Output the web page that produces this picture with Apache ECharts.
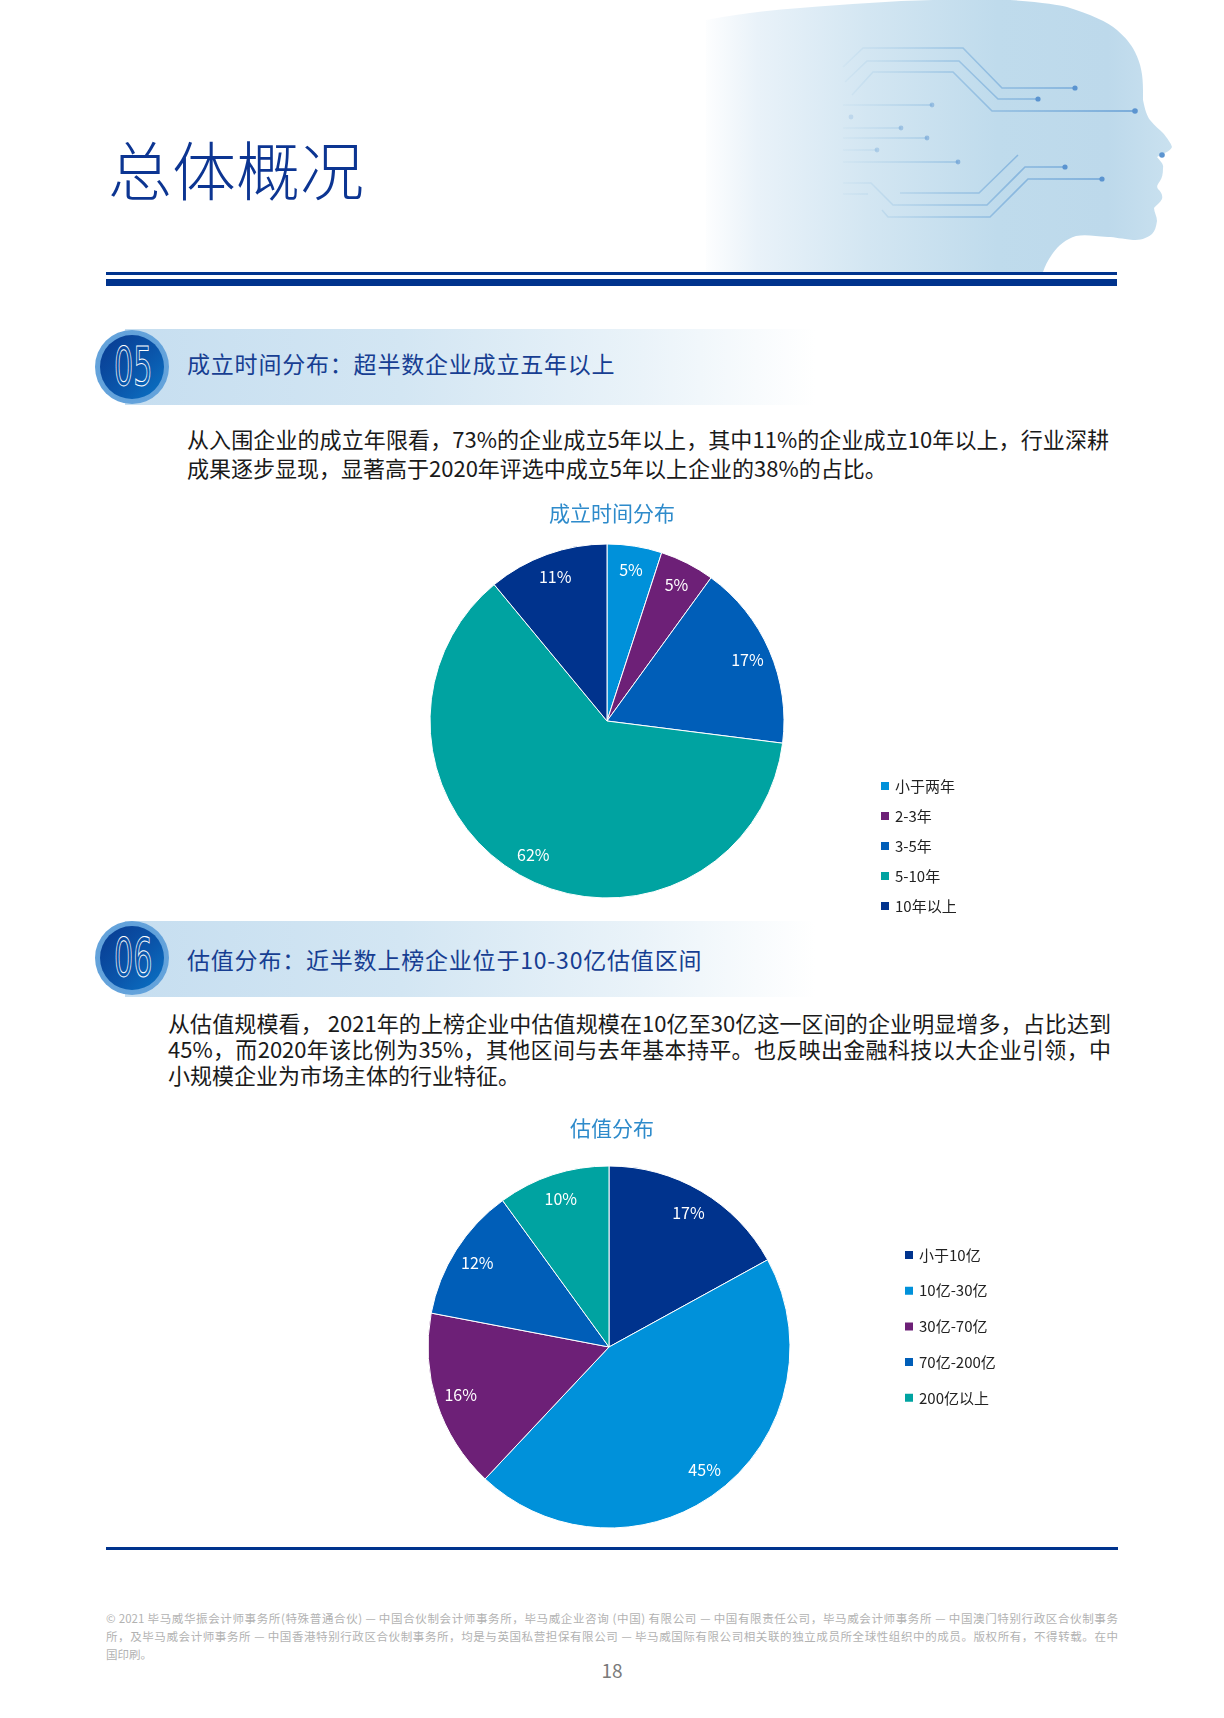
<!DOCTYPE html>
<html>
<head>
<meta charset="utf-8">
<script src="https://cdn.jsdelivr.net/npm/echarts@6/dist/echarts.min.js"></script>
<style>
  html, body { margin:0; padding:0; background:#fff; }
  body { width:1224px; height:1718px; position:relative; overflow:hidden;
         font-family:"Noto Sans CJK SC","Noto Sans",sans-serif; }
  .abs { position:absolute; }
  .title { left:108px; top:124px; font-size:64px; font-weight:200; color:#0C3592; line-height:86px; letter-spacing:0px; }
  .rule-thin { left:106px; width:1011px; top:272px; height:3px; background:#00338D; }
  .rule-thick { left:106px; width:1011px; top:279px; height:7px; background:#00338D; }
  .banner { left:125px; width:690px; height:76px;
            background:linear-gradient(90deg,#c6def0 0%,#d3e6f3 40%,#eaf3f9 75%,rgba(255,255,255,0) 100%); }
  .circle { width:74px; height:74px; border-radius:50%;
            background:radial-gradient(circle, #4f94d4 0%, #6aa7dd 88%, #a9cdee 100%); }
  .circle-in { position:absolute; left:5px; top:5px; width:64px; height:64px; border-radius:50%;
            background:linear-gradient(135deg,#093a90 0%,#0a55aa 55%,#0b74c6 100%); overflow:hidden; }
  .num { position:absolute; left:0; top:0; width:64px; height:64px; text-align:center; line-height:64px;
         font-family:"DejaVu Sans","Noto Sans",sans-serif; font-size:54px; font-weight:normal;
         color:transparent; -webkit-text-stroke:1.1px #ffffff; transform:scaleX(0.56); transform-origin:50% 50%; }
  .sec { left:187px; font-size:23px; letter-spacing:0.8px; color:#173e92; line-height:30px; white-space:nowrap; }
  .para { font-size:22px; color:#1a1a1a; }
  .para div { white-space:nowrap; }
  .para .j { text-align:justify; text-align-last:justify; }
  .foot { left:106px; width:1012px; font-size:11.5px; color:#b2b2b2; line-height:18px; top:1609px; }
  .foot div { white-space:nowrap; }
  .foot .j { text-align:justify; text-align-last:justify; }
  .pnum { left:0; width:1224px; text-align:center; top:1657px; font-size:19px; color:#7a7a7a; line-height:26px; }
  .bottom-rule { left:106px; width:1012px; top:1547px; height:3px; background:#00338D; }
  #chart { position:absolute; left:0; top:0; width:1224px; height:1718px; z-index:5; }
</style>
</head>
<body>
<svg class="abs" style="left:0;top:0" width="1224" height="290">
  <defs>
    <linearGradient id="headG" x1="700" y1="0" x2="1180" y2="0" gradientUnits="userSpaceOnUse">
      <stop offset="0" stop-color="#ffffff"/>
      <stop offset="0.12" stop-color="#e9f2f9"/>
      <stop offset="0.35" stop-color="#d3e6f2"/>
      <stop offset="0.62" stop-color="#bfdbec"/>
      <stop offset="0.85" stop-color="#bdd9eb"/>
      <stop offset="1" stop-color="#cbe2f0"/>
    </linearGradient>
    <linearGradient id="lineG" x1="843" y1="0" x2="1140" y2="0" gradientUnits="userSpaceOnUse">
      <stop offset="0" stop-color="#a9cde6" stop-opacity="0.15"/>
      <stop offset="0.35" stop-color="#8dbbe0" stop-opacity="0.7"/>
      <stop offset="1" stop-color="#5d98d2" stop-opacity="0.95"/>
    </linearGradient>
  </defs>
  <path fill="url(#headG)" d="M706 272 L706 20 C740 14 770 10 800 8 C850 4 890 1 933 0 L1010 0 C1040 2 1060 5 1067 7 C1090 14 1108 22 1117 30 C1126 38 1131 44 1135 52 C1141 64 1143 75 1143 90 L1143 100 C1145 110 1147 116 1150 120 C1155 126 1160 130 1163 133 C1167 138 1171 143 1172 147 C1170 151 1165 153 1162 154 L1157 157 C1160 161 1164 164 1163 168 C1163 174 1162 178 1160 181 C1158 184 1156 186 1158 189 C1161 192 1163 195 1162 199 C1160 203 1156 205 1154 208 C1154 212 1157 216 1157 221 C1156 227 1155 231 1152 234 C1146 239 1140 240 1133 240 C1122 239 1115 237 1108 237 C1095 236 1085 234 1076 236 C1066 239 1058 246 1053 253 C1048 260 1045 266 1043 272 Z"/>
  <g fill="none" stroke="url(#lineG)" stroke-width="1.6">
    <polyline points="843,67 863,48 963,48 1002,88 1075,88"/>
    <polyline points="845,82 867,61 959,61 998,99 1038,99"/>
    <polyline points="852,95 873,72 953,72 992,111 1135,111"/>
    <polyline points="843,105 932,105"/>
    <polyline points="843,128 901,128"/>
    <polyline points="843,138 927,138"/>
    <polyline points="843,150 877,150"/>
    <polyline points="843,162 958,162"/>
    <polyline points="900,193 979,193 1018,155"/>
    <polyline points="843,183 871,183 893,205 987,205 1025,167 1065,167"/>
    <polyline points="843,194 868,194"/>
    <polyline points="882,210 888,217 990,217 1028,179 1102,179"/>
  </g>
  <g fill="#5b94d0">
    <circle cx="1075" cy="88" r="2.6"/>
    <circle cx="1038" cy="99" r="2.6"/>
    <circle cx="1135" cy="111" r="2.8"/>
    <circle cx="932" cy="105" r="2.4" fill-opacity="0.45"/>
    <circle cx="851" cy="117" r="2.4" fill-opacity="0.2"/>
    <circle cx="901" cy="128" r="2.4" fill-opacity="0.4"/>
    <circle cx="927" cy="138" r="2.4" fill-opacity="0.5"/>
    <circle cx="877" cy="150" r="2.4" fill-opacity="0.3"/>
    <circle cx="958" cy="162" r="2.4" fill-opacity="0.6"/>
    <circle cx="1065" cy="167" r="2.6"/>
    <circle cx="1102" cy="179" r="2.6"/>
    <circle cx="1162" cy="155" r="2.8"/>
  </g>
</svg>

<div class="abs title">总体概况</div>
<div class="abs rule-thin"></div>
<div class="abs rule-thick"></div>

<div class="abs banner" style="top:329px"></div>
<div class="abs circle" style="left:95px;top:330px"><div class="circle-in"><div class="num">05</div></div></div>
<div class="abs sec" style="top:348px">成立时间分布：超半数企业成立五年以上</div>

<div class="abs para" style="left:187px;top:424px;width:922px;line-height:29px">
  <div class="j">从入围企业的成立年限看，73%的企业成立5年以上，其中11%的企业成立10年以上，行业深耕</div>
  <div>成果逐步显现，显著高于2020年评选中成立5年以上企业的38%的占比。</div>
</div>

<div class="abs banner" style="top:921px"></div>
<div class="abs circle" style="left:95px;top:921px"><div class="circle-in"><div class="num">06</div></div></div>
<div class="abs sec" style="top:944px">估值分布：近半数上榜企业位于10-30亿估值区间</div>

<div class="abs para" style="left:168px;top:1009px;width:943px;line-height:26.2px">
  <div class="j">从估值规模看， 2021年的上榜企业中估值规模在10亿至30亿这一区间的企业明显增多，占比达到</div>
  <div class="j">45%，而2020年该比例为35%，其他区间与去年基本持平。也反映出金融科技以大企业引领，中</div>
  <div>小规模企业为市场主体的行业特征。</div>
</div>

<div class="abs bottom-rule"></div>

<div class="abs foot">
  <div class="j">© 2021 毕马威华振会计师事务所(特殊普通合伙) — 中国合伙制会计师事务所，毕马威企业咨询 (中国) 有限公司 — 中国有限责任公司，毕马威会计师事务所 — 中国澳门特别行政区合伙制事务</div>
  <div class="j">所，及毕马威会计师事务所 — 中国香港特别行政区合伙制事务所，均是与英国私营担保有限公司 — 毕马威国际有限公司相关联的独立成员所全球性组织中的成员。版权所有，不得转载。在中</div>
  <div>国印刷。</div>
</div>
<div class="abs pnum">18</div>

<div id="chart"></div>

<script>
// ---- data ----
const ageCategories = ['小于两年', '2-3年', '3-5年', '5-10年', '10年以上'];
const ageValues = [5, 5, 17, 62, 11];
const valuationCategories = ['小于10亿', '10亿-30亿', '30亿-70亿', '70亿-200亿', '200亿以上'];
const valuationValues = [17, 45, 16, 12, 10];
const chartTitles = ['成立时间分布', '估值分布'];

// ---- styles ----
const ageColors = ['#0091DA', '#6D2077', '#005EB8', '#00A3A1', '#00338D'];
const valuationColors = ['#00338D', '#0091DA', '#6D2077', '#005EB8', '#00A3A1'];
const FONT = '"Noto Sans CJK SC","Noto Sans",sans-serif';

function pieData(names, values, colors) {
  return names.map((n, i) => ({ name: n, value: values[i], itemStyle: { color: colors[i] } }));
}
function labelData(names, values) {
  return names.map((n, i) => ({ name: n, value: values[i] }));
}
function piePair(names, values, colors, center, r, rLabelInner) {
  return [
    {
      type: 'pie', center: center, radius: [0, r], startAngle: 90, clockwise: true,
      silent: true, animation: false, avoidLabelOverlap: false,
      data: pieData(names, values, colors),
      itemStyle: { borderColor: '#ffffff', borderWidth: 1 },
      label: { show: false }, labelLine: { show: false },
      emphasis: { disabled: true }
    },
    {
      type: 'pie', center: center, radius: [rLabelInner, r], startAngle: 90, clockwise: true,
      silent: true, animation: false, avoidLabelOverlap: false,
      data: labelData(names, values),
      itemStyle: { color: 'rgba(0,0,0,0)', borderWidth: 0 },
      label: { show: true, position: 'inside', formatter: '{c}%', color: '#ffffff',
               fontSize: 16, fontFamily: FONT, padding: [6, 0, 0, 0] },
      labelLine: { show: false },
      emphasis: { disabled: true }
    }
  ];
}
function legendFor(names, colors, left, top, gap) {
  return {
    orient: 'vertical', left: left, top: top, padding: 0,
    icon: 'rect', itemWidth: 10, itemHeight: 10, itemGap: gap,
    selectedMode: false,
    data: names.map((n, i) => ({ name: n, itemStyle: { color: colors[i] } })),
    textStyle: { fontSize: 15, color: '#222222', fontFamily: FONT, lineHeight: 16, padding: [0, 0, 0, 0] }
  };
}

const chart = echarts.init(document.getElementById('chart'), null, { renderer: 'canvas' });
chart.setOption({
  backgroundColor: 'transparent',
  animation: false,
  title: [
    { text: chartTitles[0], left: 'center', top: 500, padding: 0,
      textStyle: { color: '#2E8BCB', fontSize: 21, fontWeight: 'normal', fontFamily: FONT, lineHeight: 26 } },
    { text: chartTitles[1], left: 'center', top: 1115, padding: 0,
      textStyle: { color: '#2E8BCB', fontSize: 21, fontWeight: 'normal', fontFamily: FONT, lineHeight: 26 } }
  ],
  legend: [
    legendFor(ageCategories, ageColors, 879, 778, 14),
    legendFor(valuationCategories, valuationColors, 903, 1247, 19.7)
  ],
  series: [
    ...piePair(ageCategories, ageValues, ageColors, [607, 721], 177, 123),
    ...piePair(valuationCategories, valuationValues, valuationColors, [609, 1347], 181, 125)
  ]
});
</script>
</body>
</html>
